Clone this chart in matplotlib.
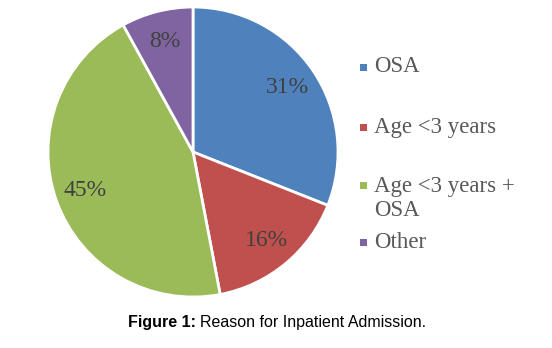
import matplotlib
matplotlib.use("Agg")
import matplotlib.pyplot as plt
from matplotlib.patches import Rectangle

labels = ["OSA", "Age <3 years", "Age <3 years +\nOSA", "Other"]
values = [31, 16, 45, 8]
colors = ["#4F81BD", "#C0504D", "#9BBB59", "#8064A2"]

fig = plt.figure(figsize=(5.52, 3.48), dpi=100)

# pie drawing area in pixels: left 48, bottom 51, 290 x 290
ax = fig.add_axes([48 / 552, 51 / 348, 290 / 552, 290 / 348])
wedges, texts, autotexts = ax.pie(
    values,
    colors=colors,
    startangle=90,
    counterclock=False,
    autopct=lambda p: f"{p:.0f}%",
    pctdistance=0.79,
    wedgeprops=dict(edgecolor="white", linewidth=2),
    textprops=dict(family="Liberation Serif", fontsize=17, color="#404040"),
)
ax.set_aspect("equal")
ax.set_xlim(-1, 1)
ax.set_ylim(-1, 1)

# legend drawn by hand to keep the uneven Excel spacing
legend_y = [67, 127, 185, 242]
for lab, col, y in zip(labels, colors, legend_y):
    fig.patches.append(Rectangle((360 / 552, (348 - y - 3.5) / 348), 7 / 552, 7 / 348,
                                 transform=fig.transFigure, facecolor=col, edgecolor="none"))
    n_lines = lab.count("\n")
    ty = y + n_lines * 13.5
    fig.text(374 / 552, (348 - ty) / 348, lab, family="Liberation Serif", fontsize=16.5,
             color="#595959", va="center", ha="left", linespacing=1.2)

# caption with bold prefix
renderer = fig.canvas.get_renderer()
t1 = fig.text(128 / 552, (348 - 322) / 348, "Figure 1:", family="Liberation Sans",
              fontsize=11.5, fontweight="bold", va="center", ha="left")
bb = t1.get_window_extent(renderer)
fig.text((bb.x1 + 4) / 552, (348 - 322) / 348, "Reason for Inpatient Admission.",
         family="Liberation Sans", fontsize=11.5, va="center", ha="left")

fig.savefig("out.png", dpi=100)
